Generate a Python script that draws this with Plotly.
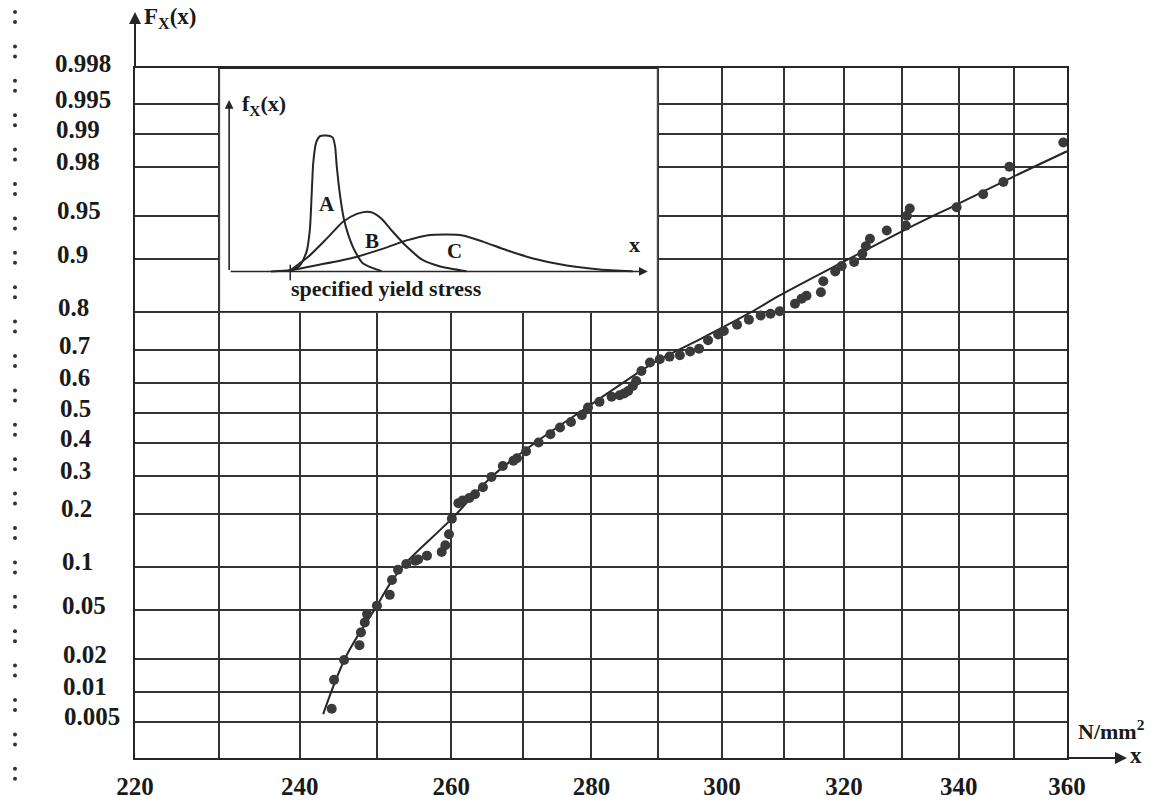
import math
from statistics import NormalDist
import plotly.graph_objects as go

nd = NormalDist()


def probit(p):
    return nd.inv_cdf(p)


# ---------------- data ----------------
# measured yield stress (N/mm^2) and plotted cumulative probability F_X(x)
stress = [244.1, 244.4, 245.7, 247.7, 247.9, 248.4, 248.7, 250.0, 251.7, 252.0,
          252.8, 253.9, 255.1, 255.5, 256.7, 258.7, 259.2, 259.7, 260.1, 261.0,
          261.6, 262.5, 263.3, 264.4, 265.6, 267.2, 268.7, 269.2, 270.5, 272.3,
          274.0, 275.4, 277.0, 278.6, 279.5, 281.2, 283.0, 284.2, 284.9, 285.5,
          286.2, 286.7, 287.5, 288.8, 290.3, 291.8, 293.4, 295.0, 296.4, 297.8,
          299.4, 300.3, 302.4, 304.3, 306.2, 307.8, 309.3, 311.8, 312.9, 313.7,
          316.1, 316.5, 318.5, 319.6, 321.7, 323.1, 323.7, 324.4, 327.3, 330.6,
          330.8, 331.3, 339.6, 344.4, 348.1, 349.2, 359.3]
prob = [0.0068, 0.013, 0.0197, 0.0264, 0.0336, 0.0403, 0.0467, 0.054, 0.0646, 0.0817,
        0.0954, 0.104, 0.109, 0.111, 0.117, 0.123, 0.135, 0.156, 0.189, 0.226,
        0.233, 0.239, 0.249, 0.268, 0.297, 0.329, 0.345, 0.353, 0.375, 0.403,
        0.430, 0.452, 0.470, 0.493, 0.518, 0.537, 0.554, 0.559, 0.565, 0.573,
        0.589, 0.605, 0.637, 0.663, 0.673, 0.681, 0.685, 0.696, 0.704, 0.728,
        0.744, 0.753, 0.769, 0.782, 0.792, 0.796, 0.802, 0.819, 0.830, 0.836,
        0.843, 0.864, 0.881, 0.890, 0.896, 0.908, 0.918, 0.927, 0.936, 0.941,
        0.950, 0.956, 0.957, 0.966, 0.973, 0.980, 0.988]

# fitted distribution curve
fit_x = [243.0, 246.0, 250.0, 251.7, 253.7, 260.1, 265.6, 272.5, 279.8, 287.3,
         290.3, 296.5, 304.5, 309.3, 320.4, 330.8, 339.6, 349.9, 360.0]
fit_F = [0.006, 0.0214, 0.054, 0.0767, 0.1037, 0.189, 0.2969, 0.4133, 0.5256, 0.6359,
         0.6727, 0.7305, 0.7986, 0.8367, 0.8989, 0.9378, 0.9590, 0.9756, 0.9855]

# axis ticks
x_label_ticks = [220, 240, 260, 280, 300, 320, 340, 360]
x_minor_ticks = [230, 250, 270, 290, 310, 330, 350]
y_ticks = [0.005, 0.01, 0.02, 0.05, 0.1, 0.2, 0.3, 0.4, 0.5, 0.6, 0.7, 0.8, 0.9,
           0.95, 0.98, 0.99, 0.995, 0.998]
y_tick_labels = ['0.005', '0.01', '0.02', '0.05', '0.1', '0.2', '0.3', '0.4', '0.5', '0.6',
                 '0.7', '0.8', '0.9', '0.95', '0.98', '0.99', '0.995', '0.998']
x_range = [220, 360]
p_range = [0.002, 0.998]

# inset (schematic densities, relative units)
inset_x_span = [230, 290]
inset_p_span = [0.8, 0.998]
A_u = [10, 14.6, 16.9, 18.5, 19.3, 19.7, 20.1, 20.8, 21.7, 23.2, 24.7, 25.3, 25.7,
       26.5, 27.4, 28.5, 30.1, 32.0, 36.4]
A_v = [0, 1.0, 4.4, 14.7, 31.6, 56.1, 80.9, 95.6, 100.2, 100.7, 99.3, 92.9, 78.2,
       56.1, 39.0, 26.7, 14.7, 5.9, 0.2]
B_u = [14.6, 19.3, 23.3, 27.2, 30.5, 32.9, 34.4, 36.4, 39.1, 42.4, 46.3, 50.4, 56.7]
B_v = [0.7, 12.0, 24.3, 36.8, 42.6, 44.3, 43.4, 39.0, 29.4, 18.4, 8.3, 3.7, 0.2]
C_u = [14.6, 20.9, 28.9, 36.8, 42.4, 47.2, 52.0, 55.8, 60.6, 66.3, 72.6, 80.6, 88.5, 96.4]
C_v = [0.7, 4.6, 9.6, 16.9, 23.0, 26.7, 27.4, 26.7, 22.1, 15.7, 9.6, 4.4, 1.5, 0.2]
spec_yield_u = 14.6
inset_u_range = [-2.39, 102.39]
inset_v_range = [-30.15, 150.74]

# ---------------- figure ----------------
INK = '#262626'
TXT = '#1a1a1a'
FONT = 'Liberation Serif'
W, H = 1174, 802
ML, MR, MT, MB = 135, 107, 68, 44
PW, PH = W - ML - MR, H - MT - MB

lx0, lx1 = math.log10(x_range[0]), math.log10(x_range[1])
z0, z1 = probit(p_range[0]), probit(p_range[1])


def xfrac(v):
    return (math.log10(v) - lx0) / (lx1 - lx0)


def yfrac(p):
    return (probit(p) - z0) / (z1 - z0)


fig = go.Figure()

# fitted curve
fig.add_trace(go.Scatter(x=fit_x, y=[probit(p) for p in fit_F], mode='lines',
                         line=dict(color=INK, width=2, shape='spline', smoothing=1.0),
                         hoverinfo='skip'))
# observations
fig.add_trace(go.Scatter(x=stress, y=[probit(p) for p in prob], mode='markers',
                         marker=dict(size=10, color='#3a3a3a', line=dict(width=0))))

# inset curves
for u, v in ((A_u, A_v), (B_u, B_v), (C_u, C_v)):
    fig.add_trace(go.Scatter(x=u, y=v, mode='lines', xaxis='x2', yaxis='y2',
                             line=dict(color=INK, width=2, shape='spline', smoothing=0.6),
                             hoverinfo='skip'))

GRIDC, GRIDW = '#333333', 1.6
grid = dict(showgrid=True, gridcolor=GRIDC, gridwidth=GRIDW, zeroline=False,
            showline=True, mirror=True, linecolor=INK, linewidth=2, automargin=False)

fig.update_layout(
    width=W, height=H,
    margin=dict(l=ML, r=MR, t=MT, b=MB, autoexpand=False),
    paper_bgcolor='white', plot_bgcolor='white', showlegend=False,
    font=dict(family=FONT, color=TXT),
    xaxis=dict(type='log', range=[lx0, lx1], tickmode='array', tickvals=x_label_ticks,
               ticktext=['<b>%d</b>' % t for t in x_label_ticks],
               ticks='outside', ticklen=5, tickcolor='rgba(0,0,0,0)',
               tickfont=dict(size=25, family=FONT, color=TXT),
               minor=dict(tickmode='array', tickvals=x_minor_ticks, showgrid=True,
                          gridcolor=GRIDC, gridwidth=GRIDW, ticks=''),
               **grid),
    yaxis=dict(range=[z0, z1], tickvals=[probit(p) for p in y_ticks],
               showticklabels=False, ticks='', **grid),
    xaxis2=dict(domain=[xfrac(inset_x_span[0]), xfrac(inset_x_span[1])],
                range=inset_u_range, anchor='y2', visible=False, fixedrange=True),
    yaxis2=dict(domain=[yfrac(inset_p_span[0]), yfrac(inset_p_span[1])],
                range=inset_v_range, anchor='x2', visible=False, fixedrange=True),
)

# inset white panel covering the grid
fig.add_shape(type='rect', xref='x2', yref='y2',
              x0=inset_u_range[0], x1=inset_u_range[1],
              y0=inset_v_range[0], y1=inset_v_range[1],
              fillcolor='white', line=dict(color=INK, width=2), layer='between')
# specified yield stress tick
fig.add_shape(type='line', xref='x2', yref='y2', x0=spec_yield_u, x1=spec_yield_u,
              y0=-6.6, y1=5, line=dict(color=INK, width=1.5))

# y tick labels (left aligned, like the original)
for p, t in zip(y_ticks, y_tick_labels):
    fr = yfrac(p)
    xl = (53 + 9 * (1 - fr) - ML) / PW
    fig.add_annotation(x=xl, xref='paper', y=probit(p), yref='y', text='<b>%s</b>' % t,
                       showarrow=False, xanchor='left', yanchor='middle', yshift=5,
                       font=dict(size=25, family=FONT, color=TXT))

# axis arrows
fig.add_annotation(x=0, y=1 + 56 / PH, xref='paper', yref='paper', ax=0, ay=56,
                   axref='pixel', ayref='pixel', text='', showarrow=True, arrowhead=2,
                   arrowsize=1.2, arrowwidth=2, arrowcolor=INK)
fig.add_annotation(x=1 + 60 / PW, y=0, xref='paper', yref='paper', ax=-60, ay=0,
                   axref='pixel', ayref='pixel', text='', showarrow=True, arrowhead=2,
                   arrowsize=1.2, arrowwidth=2, arrowcolor=INK)

# axis titles
fig.add_annotation(x=7 / PW, y=1 + 50 / PH, xref='paper', yref='paper',
                   text='<b>F<sub>X</sub>(x)</b>', showarrow=False, xanchor='left',
                   yanchor='middle', font=dict(size=23, family=FONT, color=TXT))
fig.add_annotation(x=1 + 9 / PW, y=28 / PH, xref='paper', yref='paper',
                   text='<b>N/mm<sup>2</sup></b>', showarrow=False, xanchor='left',
                   yanchor='middle', font=dict(size=22, family=FONT, color=TXT))
fig.add_annotation(x=1 + 61 / PW, y=3 / PH, xref='paper', yref='paper',
                   text='<b>x</b>', showarrow=False, xanchor='left',
                   yanchor='middle', font=dict(size=23, family=FONT, color=TXT))

# inset axes arrows and labels
fig.add_annotation(x=0, y=127, xref='x2', yref='y2', ax=0, ay=0, axref='x2', ayref='y2',
                   text='', showarrow=True, arrowhead=2, arrowsize=1.1, arrowwidth=1.6,
                   arrowcolor=INK)
fig.add_annotation(x=100, y=0, xref='x2', yref='y2', ax=0, ay=0, axref='x2', ayref='y2',
                   text='', showarrow=True, arrowhead=2, arrowsize=1.1, arrowwidth=1.6,
                   arrowcolor=INK)
inset_labels = [
    (2.6, 123, '<b>f<sub>X</sub>(x)</b>', 'left', 22),
    (96.9, 19.9, '<b>x</b>', 'center', 22),
    (23.4, 50.0, '<b>A</b>', 'center', 21),
    (34.1, 22.8, '<b>B</b>', 'center', 21),
    (53.9, 15.4, '<b>C</b>', 'center', 21),
    (14.3, -12.5, '<b>specified yield stress</b>', 'left', 22),
]
for u, v, t, anc, fs in inset_labels:
    fig.add_annotation(x=u, y=v, xref='x2', yref='y2', text=t, showarrow=False,
                       xanchor=anc, yanchor='middle',
                       font=dict(size=fs, family=FONT, color=TXT))

# binding-edge dots from the scanned page
for k in range(23):
    cy = 12 + 34.4 * k
    for dy in (0, 10):
        fig.add_shape(type='circle', xref='paper', yref='paper', xsizemode='pixel',
                      ysizemode='pixel', xanchor=(15 - ML) / PW,
                      yanchor=(H - MB - (cy + dy)) / PH, x0=-2, x1=2, y0=-2, y1=2,
                      fillcolor='#333333', line=dict(width=0))

fig.write_html('out.html', config={'displayModeBar': False},
               post_script="document.body.style.margin='0';document.body.style.overflow='hidden';")
